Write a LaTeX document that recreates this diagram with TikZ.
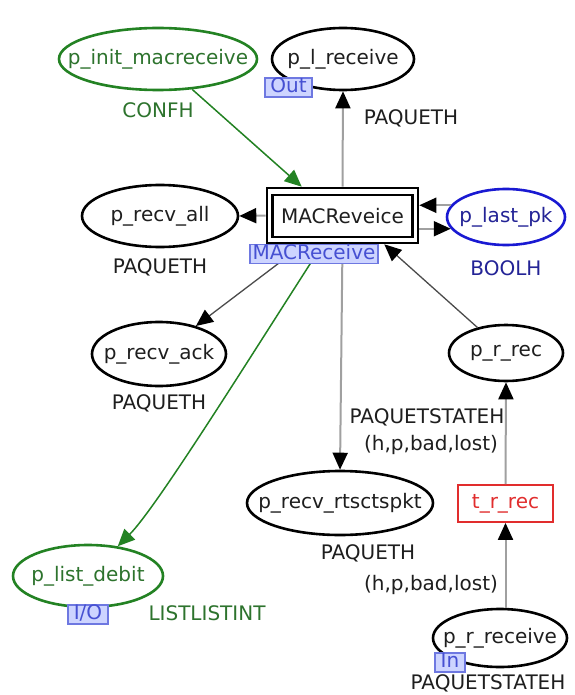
\documentclass[tikz,border=0pt]{standalone}
\usepackage{fontspec}
\setmainfont{DejaVu Sans}
\usetikzlibrary{shapes.geometric,arrows.meta}
\definecolor{pgreen}{RGB}{35,130,35}
\definecolor{tgreen}{RGB}{45,115,45}
\definecolor{pblue}{RGB}{25,25,210}
\definecolor{tblue}{RGB}{35,35,150}
\definecolor{pred}{RGB}{225,45,45}
\definecolor{tagfill}{RGB}{205,212,255}
\definecolor{tagdraw}{RGB}{110,120,225}
\definecolor{tagtext}{RGB}{70,80,210}
\definecolor{arcgrey}{RGB}{160,160,160}
\definecolor{arcdark}{RGB}{75,75,75}
\definecolor{txt}{RGB}{30,30,30}
\begin{document}
\begin{tikzpicture}[x=1pt,y=-1pt,font=\fontsize{20}{23}\selectfont,
  place/.style={ellipse,draw=black,line width=2.6pt,inner sep=0pt},
  gplace/.style={place,draw=pgreen},
  ptext/.style={inner sep=0pt,text=txt},
  gtext/.style={inner sep=0pt,text=tgreen},
  lbl/.style={inner sep=0pt,text=txt},
  tag/.style={draw=tagdraw,fill=tagfill,text=tagtext,line width=1.2pt,inner sep=0pt,minimum height=19pt,text height=13pt,text depth=3pt},
  arc/.style={draw=arcgrey,line width=2pt,-{Triangle[length=17pt,width=15pt,color=black]}},
  darc/.style={arc,draw=arcdark,line width=1.3pt},
  garc/.style={draw=pgreen,line width=1.5pt,-{Triangle[length=17pt,width=15pt,color=pgreen]}}]
\useasboundingbox[fill=white] (0,0) rectangle (574,695);

% places
\node[gplace,minimum width=198pt,minimum height=62pt,label={[gtext]center:p\_init\_macreceive}] (pinit) at (158,59) {};
\node[place,minimum width=142pt,minimum height=62pt,label={[ptext]center:p\_l\_receive}] (plr) at (343,59) {};
\node[place,minimum width=156pt,minimum height=62pt,label={[ptext]center:p\_recv\_all}] (pall) at (160,216) {};
\node[place,draw=pblue,minimum width=118pt,minimum height=56pt,label={[ptext,text=tblue]center:p\_last\_pk}] (plast) at (506,217) {};
\node[place,minimum width=134pt,minimum height=64pt,label={[ptext]center:p\_recv\_ack}] (pack) at (159,354) {};
\node[place,minimum width=114pt,minimum height=56pt,label={[ptext]center:p\_r\_rec}] (prrec) at (506,353) {};
\node[place,minimum width=186pt,minimum height=64pt,label={[ptext]center:p\_recv\_rtsctspkt}] (prts) at (340,503) {};
\node[gplace,minimum width=150pt,minimum height=62pt,label={[gtext]center:p\_list\_debit}] (plist) at (88,576) {};
\node[place,minimum width=134pt,minimum height=58pt,label={[ptext]center:p\_r\_receive}] (prrcv) at (500,638) {};

% transitions
\node[draw=pred,text=pred,line width=1.8pt,minimum width=95pt,minimum height=37pt,inner sep=0pt] (trrec) at (505.5,503.5) {t\_r\_rec};
\node[draw,line width=2.6pt,minimum width=151pt,minimum height=55pt,inner sep=0pt] (trout) at (342.5,215.5) {};
\node[draw,line width=2.6pt,minimum width=140pt,minimum height=42pt,inner sep=0pt,text=txt] (tr) at (342.5,216) {MACReveice};

% labels
\node[lbl,text=tgreen] (l1) at (158,110) {CONFH};
\node[lbl] (l2) at (411,118) {PAQUETH};
\node[lbl] (l3) at (160,267) {PAQUETH};
\node[lbl,text=tblue] (l4) at (506,268) {BOOLH};
\node[lbl] (l5) at (159,403) {PAQUETH};
\node[lbl] (l6) at (427,417) {PAQUETSTATEH};
\node[lbl] (l7) at (431,445) {(h,p,bad,lost)};
\node[lbl] (l8) at (368,553) {PAQUETH};
\node[lbl] (l9) at (431,585) {(h,p,bad,lost)};
\node[lbl,text=tgreen] (l10) at (207,613) {LISTLISTINT};
\node[lbl] (l11) at (488,683) {PAQUETSTATEH};

% arcs
\draw[garc] (pinit) -- ([xshift=36pt]trout.north west);
\draw[arc] (trout.west) -- (pall.east);
\draw[arc] (trout.north) -- (plr.south);
\draw[arc] (plast.168) -- (trout.east |- plast.168);
\draw[arc] (trout.east |- plast.192) -- (plast.192);
\draw[arc] (trout.south) -- (prts.north);
\draw[darc] ([xshift=38pt]trout.south west) -- (pack);
\draw[darc] (prrec) -- ([xshift=-35pt]trout.south east);
\draw[arc] (trrec.north) -- (prrec.south);
\draw[arc] (trrec.south |- prrcv.north) -- (trrec.south);
\draw[garc] ([xshift=57pt]trout.south west) .. controls (252,354) and (157,507) .. (plist.45);

% tags
\node[tag,minimum width=47pt] (tout) at (288.5,87.5) {Out};
\node[tag,minimum width=128pt] (tmac) at (314,254) {MACReceive};
\node[tag,minimum width=40pt] (tio) at (88,614.5) {I/O};
\node[tag,minimum width=30pt] (tin) at (450,662.5) {In};
\end{tikzpicture}
\end{document}
